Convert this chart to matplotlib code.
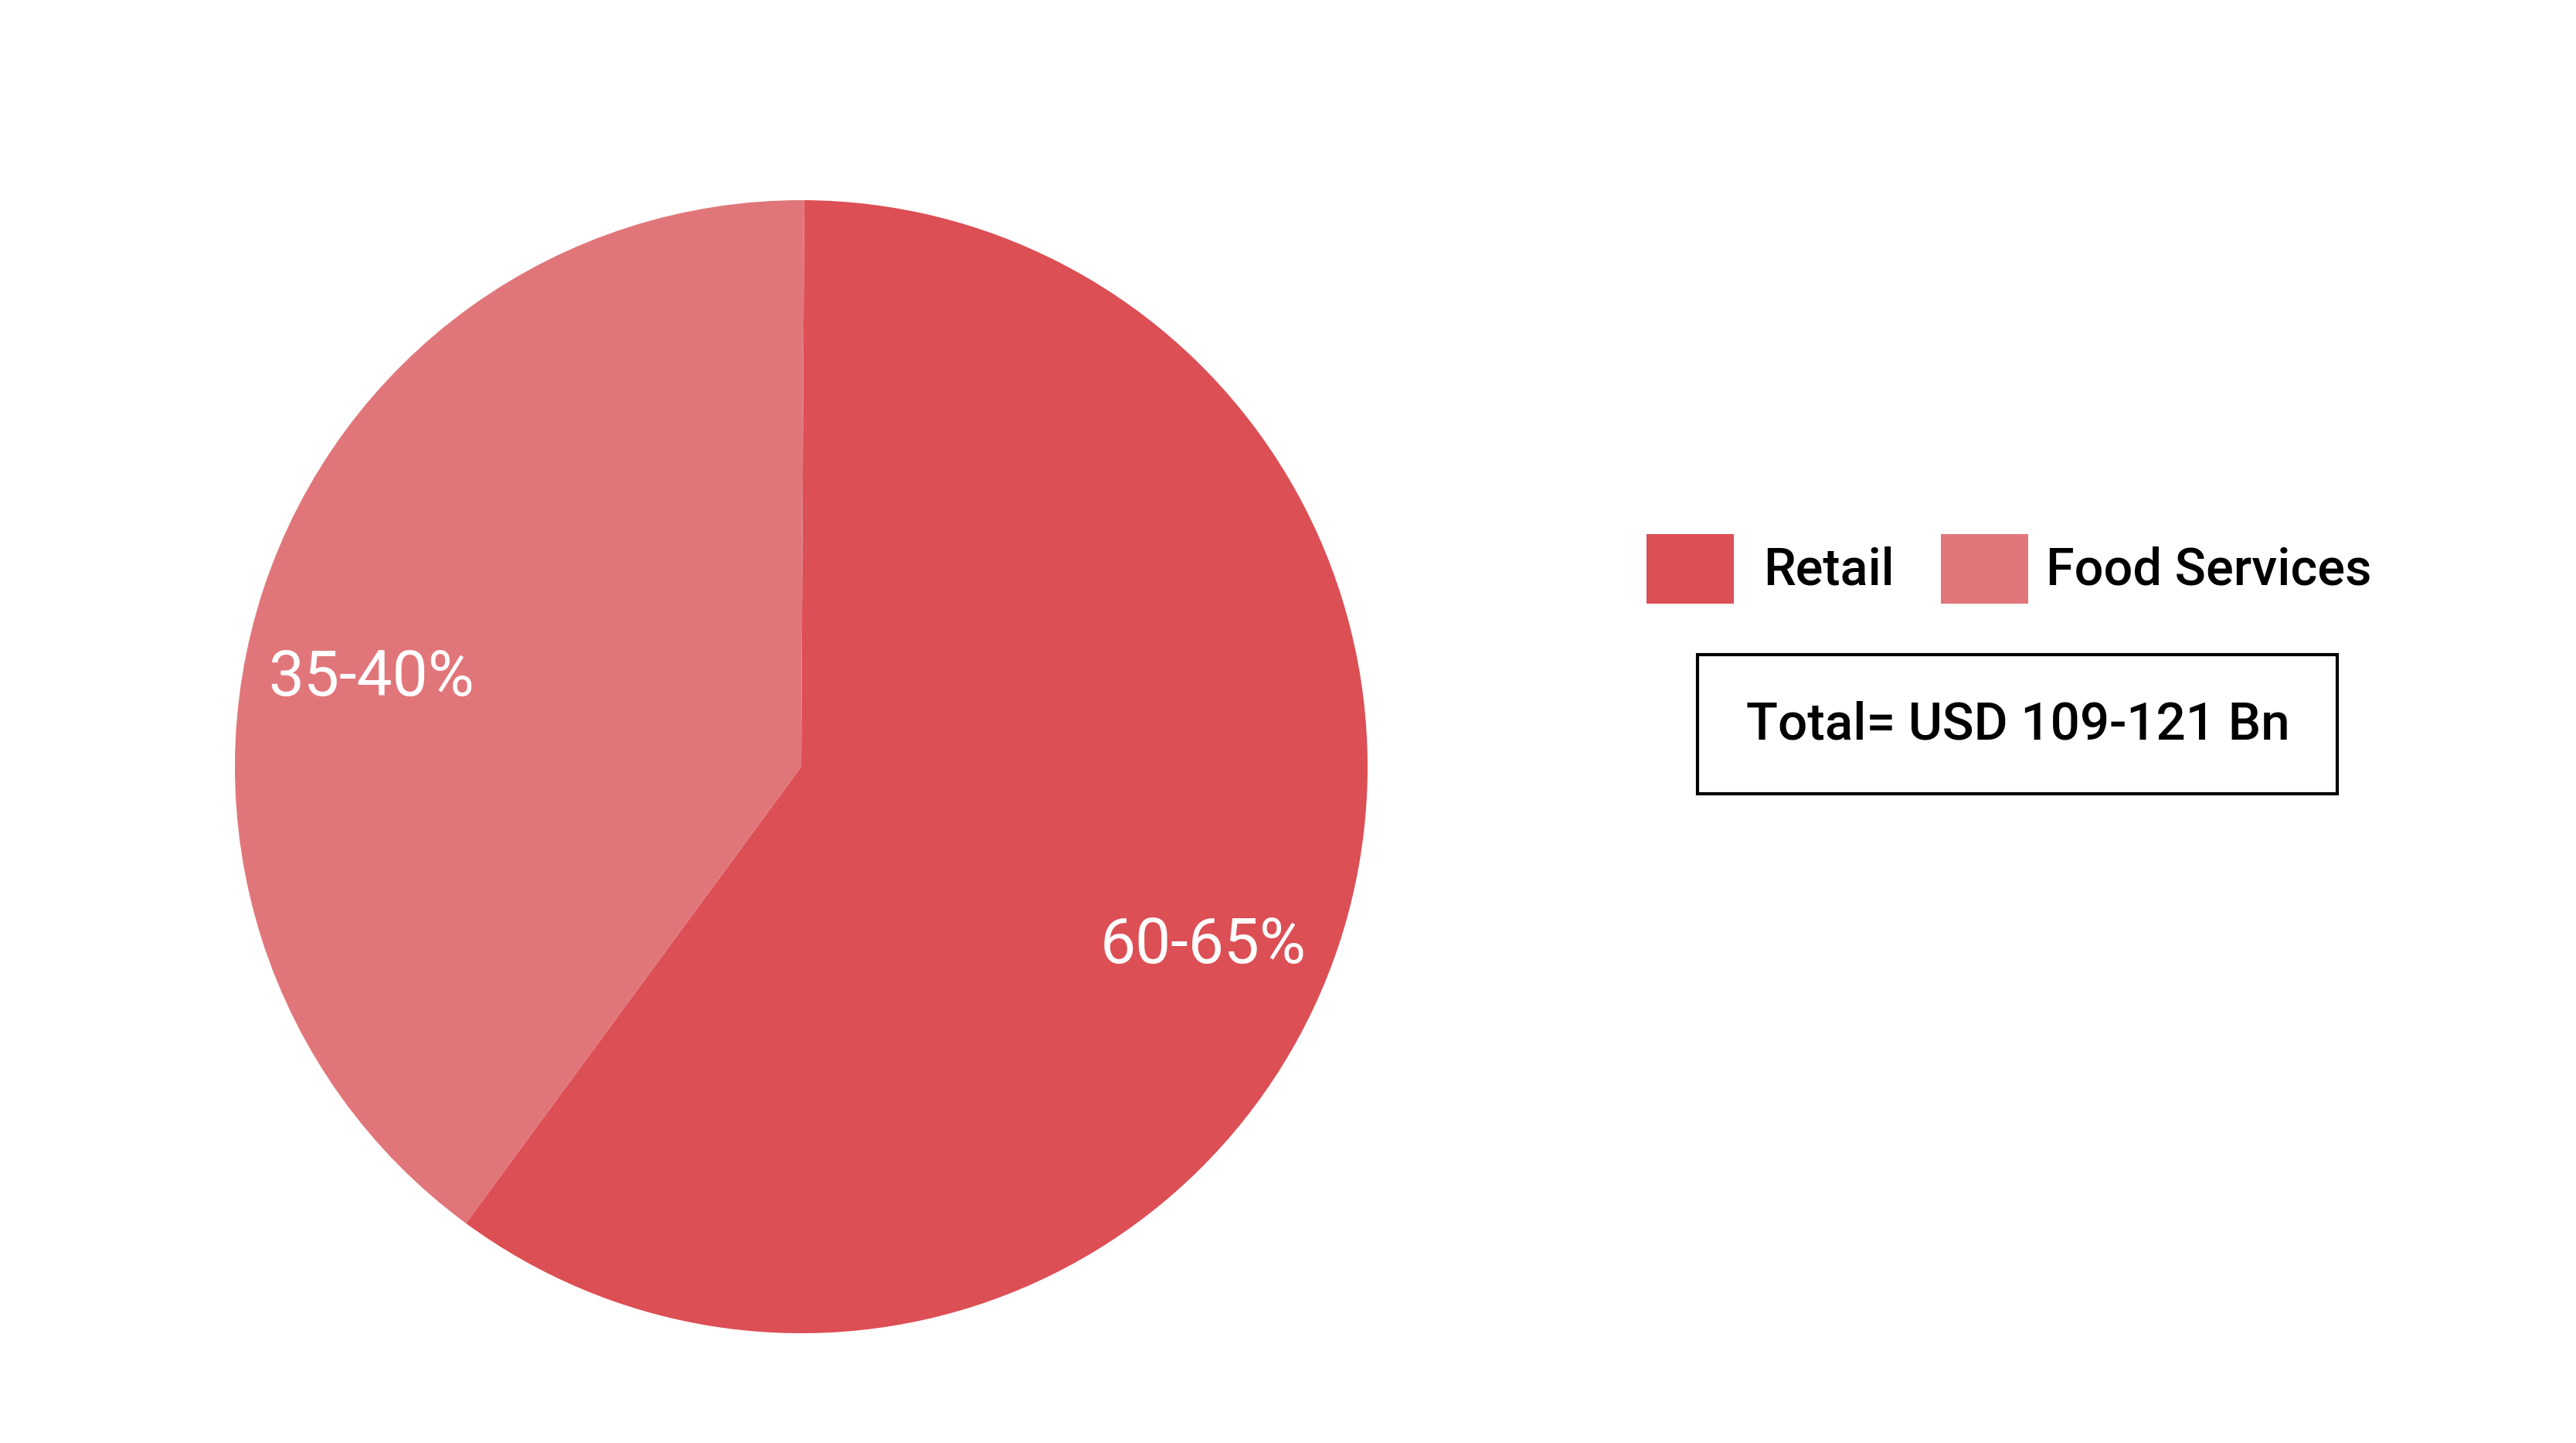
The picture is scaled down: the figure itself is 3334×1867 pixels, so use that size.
import numpy as np
import matplotlib
matplotlib.use("Agg")
import matplotlib.pyplot as plt
from matplotlib.patches import Rectangle

categories = ["Retail", "Food Services"]
shares = [60, 40]
labels = ["60-65%", "35-40%"]
colors = ["#DC4F55", "#E1767A"]
total_text = "Total= USD 109-121 Bn"

plt.rcParams['font.family'] = ['Roboto', 'DejaVu Sans']

W, H = 3334, 1867
fig = plt.figure(figsize=(W / 100, H / 100), dpi=100)
fig.patch.set_facecolor("white")

cx, cy, R = 1037, 992, 733
ax = fig.add_axes([(cx - R) / W, 1 - (cy + R) / H, 2 * R / W, 2 * R / H])
wedges, _ = ax.pie(shares, colors=colors, startangle=89.7, counterclock=False,
                   radius=1, wedgeprops=dict(linewidth=0))
ax.set_xlim(-1, 1)
ax.set_ylim(-1, 1)
ax.set_aspect("auto")
ax.axis("off")

label_pos = [(0.709, -0.316), (-0.759, 0.155)]
for (x, y), lab in zip(label_pos, labels):
    ax.text(x, y, lab, color="white", fontsize=59, ha="center", va="center")

# legend
lx = [2131, 2512]
tx = [2282, 2648]
for x0, t0, c, name in zip(lx, tx, colors, categories):
    fig.patches.append(Rectangle((x0 / W, 1 - 781 / H), 113 / W, 90 / H,
                                 transform=fig.transFigure, facecolor=c, edgecolor="none"))
    fig.text(t0 / W, 1 - 738 / H, name, fontsize=48, fontweight="medium",
             ha="left", va="center", color="black")

# total box
fig.patches.append(Rectangle((2197 / W, 1 - 1027 / H), (3025 - 2197) / W, (1027 - 847) / H,
                             transform=fig.transFigure, facecolor="white",
                             edgecolor="black", linewidth=3))
fig.text(2612 / W, 1 - 938 / H, total_text, fontsize=48.5, fontweight="medium",
         ha="center", va="center", color="black")

fig.savefig("out.png", dpi=100, facecolor="white")
